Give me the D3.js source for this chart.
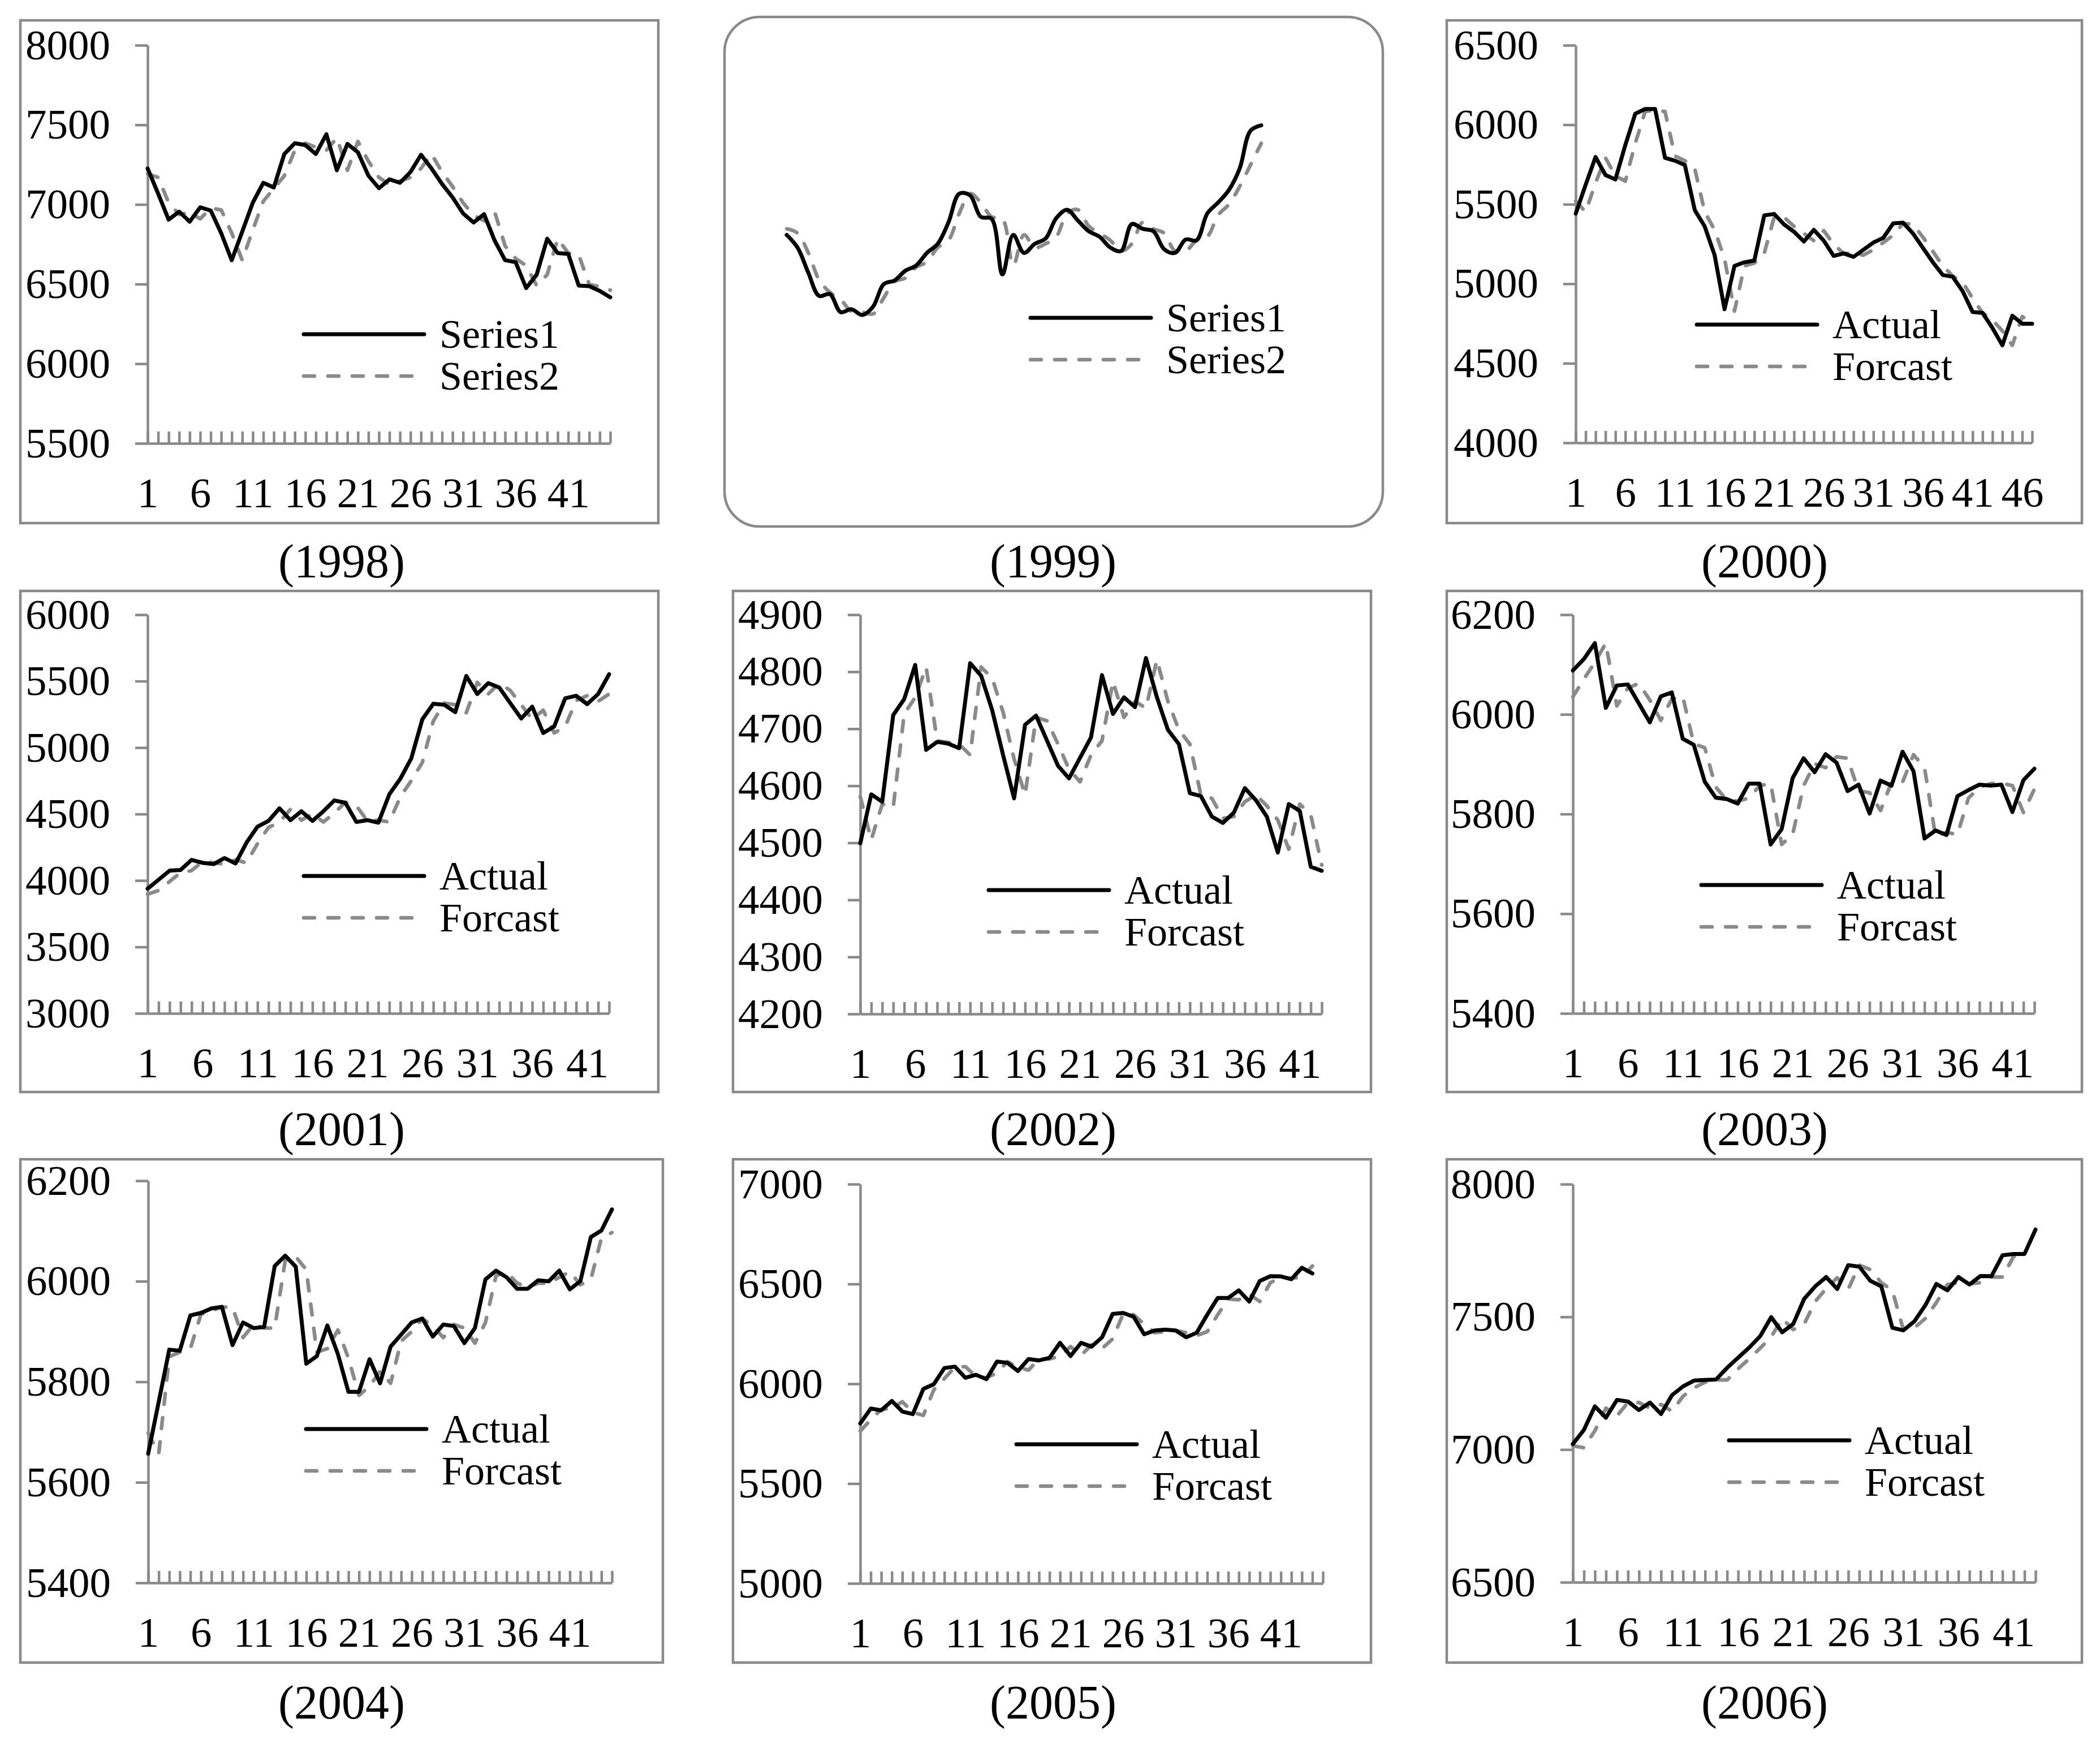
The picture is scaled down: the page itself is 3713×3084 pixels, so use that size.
<!DOCTYPE html>
<html>
<head>
<meta charset="utf-8">
<style>
  body { margin: 0; background: #fff; }
  svg { display: block; }
  text { font-family: "Liberation Serif", "Times New Roman", serif; fill: #000; }
</style>
</head>
<body>
<svg></svg>
<script src="https://d3js.org/d3.v7.min.js"></script>
<script>
let width = 3713,
  height = 3084;

// values
let actual1998 = [7226,7068,6905,6955,6892,6982,6962,6819,6650,6830,7011,7136,7107,7317,7385,7373,7317,7441,7215,7380,7328,7181,7102,7158,7136,7204,7312,7226,7129,7045,6944,6887,6939,6774,6650,6638,6475,6559,6785,6695,6690,6491,6487,6457,6417];
let forecast1998 = [7192,7170,7011,6937,6950,6910,6977,6966,6820,6650,6840,7020,7100,7180,7340,7385,7360,7340,7419,7215,7396,7272,7170,7125,7147,7170,7226,7317,7204,7113,7011,6932,6898,6955,6740,6661,6616,6491,6559,6785,6695,6684,6498,6484,6462];

let actual1999 = [6809,6730,6572,6426,6437,6324,6342,6306,6358,6500,6523,6584,6617,6696,6753,6888,7068,7057,6922,6910,6561,6809,6696,6753,6786,6915,6967,6899,6832,6798,6730,6708,6877,6847,6832,6719,6696,6780,6775,6944,7012,7091,7226,7463,7497];
let forecast1999 = [6847,6820,6696,6527,6448,6403,6329,6324,6313,6414,6516,6538,6606,6640,6730,6775,6944,7068,7012,6922,6910,6617,6809,6730,6753,6798,6944,6967,6865,6820,6775,6708,6753,6888,6847,6820,6708,6708,6775,6798,6933,7001,7113,7248,7384];

let actual2000 = [5441,5622,5797,5684,5656,5872,6069,6099,6099,5792,5774,5747,5463,5361,5180,4840,5112,5135,5146,5430,5439,5373,5327,5266,5339,5271,5175,5191,5169,5214,5259,5289,5380,5384,5316,5225,5135,5055,5044,4953,4822,4817,4722,4613,4799,4749,4749];
let forecast2000 = [5520,5452,5634,5792,5679,5645,5883,6083,6092,6083,5804,5774,5724,5452,5339,5157,4828,5112,5130,5191,5418,5418,5361,5316,5271,5334,5248,5191,5191,5180,5214,5259,5305,5380,5373,5293,5203,5112,5048,5010,4908,4817,4772,4704,4613,4794,4754];

let actual2001 = [3938,4006,4074,4079,4155,4133,4123,4169,4128,4285,4405,4448,4543,4454,4521,4448,4521,4603,4584,4440,4454,4435,4649,4766,4920,5213,5330,5322,5267,5539,5403,5485,5452,5335,5219,5308,5110,5159,5371,5390,5327,5403,5552];
let forecast2001 = [3897,3925,3992,4060,4074,4142,4133,4123,4155,4133,4277,4399,4440,4535,4454,4502,4440,4508,4589,4562,4448,4454,4440,4630,4752,4888,5200,5335,5322,5262,5490,5403,5485,5430,5322,5213,5281,5110,5159,5354,5390,5349,5403];

let actual2002 = [4499,4585,4572,4724,4752,4812,4663,4677,4674,4666,4815,4793,4733,4654,4578,4707,4723,4679,4635,4613,4649,4685,4794,4726,4755,4738,4824,4755,4698,4673,4587,4582,4546,4535,4553,4596,4575,4546,4483,4568,4556,4458,4451];
let forecast2002 = [4581,4505,4568,4562,4726,4755,4808,4679,4676,4673,4654,4808,4789,4729,4647,4584,4720,4714,4673,4629,4607,4654,4679,4783,4720,4748,4736,4821,4748,4698,4673,4584,4578,4543,4546,4572,4584,4565,4540,4489,4568,4549,4461];

let actual2003 = [6088,6111,6143,6013,6058,6060,6022,5984,6036,6044,5951,5939,5865,5833,5830,5821,5861,5861,5739,5770,5872,5912,5884,5920,5903,5846,5859,5801,5867,5857,5925,5886,5751,5767,5758,5836,5848,5859,5857,5859,5804,5868,5891];
let forecast2003 = [6035,6071,6104,6143,6017,6053,6062,6029,5988,6031,6036,5941,5933,5854,5828,5826,5832,5857,5861,5739,5759,5857,5901,5893,5915,5912,5846,5843,5807,5864,5864,5919,5893,5756,5763,5759,5832,5854,5861,5862,5857,5803,5850];

let actual2004 = [5657,5760,5864,5862,5932,5937,5946,5949,5873,5918,5907,5909,6030,6051,6029,5836,5851,5912,5855,5780,5780,5845,5797,5870,5894,5918,5926,5890,5914,5911,5877,5907,6004,6021,6008,5985,5985,6002,6000,6021,5984,6000,6088,6101,6143];
let forecast2004 = [5698,5657,5850,5859,5866,5934,5941,5949,5948,5888,5914,5907,5907,6041,6049,6023,5859,5866,5903,5847,5773,5791,5821,5797,5881,5900,5926,5911,5888,5914,5907,5877,5918,6011,6019,5996,5989,5996,5996,6008,6019,5993,6004,6086,6097];

let actual2005 = [5801,5876,5867,5914,5861,5848,5974,5998,6079,6086,6030,6045,6023,6111,6105,6064,6124,6117,6130,6205,6139,6205,6186,6233,6350,6355,6336,6248,6267,6271,6267,6233,6256,6346,6430,6430,6468,6412,6515,6539,6538,6524,6581,6553];
let forecast2005 = [5763,5820,5872,5876,5910,5857,5842,5970,6026,6083,6086,6036,6030,6055,6111,6083,6068,6124,6124,6139,6186,6143,6195,6177,6224,6350,6346,6299,6256,6261,6267,6256,6242,6261,6346,6425,6421,6449,6412,6506,6534,6528,6534,6590];

let actual2006 = [7021,7074,7163,7120,7187,7181,7149,7177,7134,7205,7238,7260,7262,7264,7308,7346,7384,7427,7499,7442,7473,7568,7615,7650,7605,7695,7689,7636,7615,7459,7449,7483,7544,7624,7600,7650,7622,7654,7653,7732,7737,7737,7829];
let forecast2006 = [7014,7007,7071,7156,7127,7177,7177,7156,7170,7144,7201,7233,7254,7262,7262,7304,7342,7382,7424,7494,7452,7473,7558,7607,7647,7605,7695,7678,7629,7600,7452,7459,7494,7554,7622,7629,7624,7629,7650,7650,7727,7737];

// tick labels
let yTicks1998 = [5500, 6000, 6500, 7000, 7500, 8000];
let yTicks2000 = [4000, 4500, 5000, 5500, 6000, 6500];
let yTicks2001 = [3000, 3500, 4000, 4500, 5000, 5500, 6000];
let yTicks2002 = [4200, 4300, 4400, 4500, 4600, 4700, 4800, 4900];
let yTicks2003 = [5400, 5600, 5800, 6000, 6200];
let yTicks2004 = [5400, 5600, 5800, 6000, 6200];
let yTicks2005 = [5000, 5500, 6000, 6500, 7000];
let yTicks2006 = [6500, 7000, 7500, 8000];

let seriesNames = ["Series1", "Series2"];
let modelNames = ["Actual", "Forcast"];
let captions = ["(1998)", "(1999)", "(2000)", "(2001)", "(2002)", "(2003)", "(2004)", "(2005)", "(2006)"];

// layout of each small chart: frame box, plot box, legend anchor, caption position
let panels = [
  { actual: actual1998, forecast: forecast1998, cats: 45, ticks: yTicks1998, names: seriesNames,
    frame: [36, 36, 1164, 925], plot: [261, 1079, 80, 784], legend: [537, 591], cap: [604, 992] },
  { actual: actual1999, forecast: forecast1999, cats: 45, ticks: null, domain: [5500, 8000], names: seriesNames,
    frame: [1281, 30, 2445, 931], plot: [1391, 2230, 80, 784], legend: [1822, 562], cap: [1862, 992], smooth: true },
  { actual: actual2000, forecast: forecast2000, cats: 47, ticks: yTicks2000, names: modelNames,
    frame: [2558, 36, 3681, 925], plot: [2786, 3593, 80, 783], legend: [3000, 574], cap: [3120, 992] },
  { actual: actual2001, forecast: forecast2001, cats: 43, ticks: yTicks2001, names: modelNames,
    frame: [36, 1045, 1164, 1931], plot: [261, 1077, 1087, 1792], legend: [537, 1549], cap: [604, 1996] },
  { actual: actual2002, forecast: forecast2002, cats: 43, ticks: yTicks2002, names: modelNames,
    frame: [1296, 1045, 2424, 1931], plot: [1521, 2337, 1087, 1793], legend: [1748, 1574], cap: [1862, 1996] },
  { actual: actual2003, forecast: forecast2003, cats: 43, ticks: yTicks2003, names: modelNames,
    frame: [2558, 1045, 3681, 1931], plot: [2781, 3597, 1087, 1792], legend: [3008, 1565], cap: [3120, 1996] },
  { actual: actual2004, forecast: forecast2004, cats: 45, ticks: yTicks2004, names: modelNames,
    frame: [36, 2050, 1172, 2940], plot: [262, 1082, 2088, 2799], legend: [541, 2527], cap: [604, 3010] },
  { actual: actual2005, forecast: forecast2005, cats: 45, ticks: yTicks2005, names: modelNames,
    frame: [1296, 2050, 2424, 2940], plot: [1521, 2339, 2094, 2800], legend: [1797, 2554], cap: [1862, 3010] },
  { actual: actual2006, forecast: forecast2006, cats: 43, ticks: yTicks2006, names: modelNames,
    frame: [2558, 2050, 3681, 2940], plot: [2781, 3599, 2094, 2798], legend: [3057, 2547], cap: [3120, 3010] }
];

let grey = "#898989";
let dash = "19,24";

let svg = d3.select("svg").attr("width", width).attr("height", height);
svg.append("rect").attr("width", width).attr("height", height).attr("fill", "#fff");

panels.forEach((p, k) => {
  let g = svg.append("g");
  let [fx0, fy0, fx1, fy1] = p.frame;
  let [px0, px1, py0, py1] = p.plot;

  // chart border
  g.append("rect")
    .attr("x", fx0).attr("y", fy0)
    .attr("width", fx1 - fx0).attr("height", fy1 - fy0)
    .attr("rx", p.smooth ? 62 : 0)
    .attr("fill", "none").attr("stroke", grey).attr("stroke-width", 4.5);

  let x = d3.scaleLinear().domain([1, p.cats]).range([px0, px1]);
  let y = d3.scaleLinear().domain(p.ticks ? d3.extent(p.ticks) : p.domain).range([py1, py0]);

  if (p.ticks) {
    // y axis
    let ya = g.append("g").attr("transform", `translate(${px0},0)`)
      .call(d3.axisLeft(y).tickValues(p.ticks).tickSize(22).tickSizeOuter(0).tickPadding(44).tickFormat(d3.format("d")));
    // x axis: a mark at every category
    let xa = g.append("g").attr("transform", `translate(0,${py1})`)
      .call(d3.axisBottom(x).tickValues(d3.range(1, p.cats + 1)).tickSize(-21).tickSizeOuter(0).tickFormat(""));
    // x labels every fifth category
    let xl = g.append("g").attr("transform", `translate(0,${py1})`)
      .call(d3.axisBottom(x).tickValues(d3.range(1, p.cats + 1, 5)).tickSize(0).tickPadding(60).tickFormat(d3.format("d")));
    xl.select(".domain").remove();
    [ya, xa, xl].forEach((a) => {
      a.selectAll("path, line").attr("stroke", grey).attr("stroke-width", 4.5);
      a.selectAll("text").attr("font-size", 75).attr("font-family", "Liberation Serif").attr("fill", "#000");
    });
  }

  let line = d3.line()
    .x((d, i) => x(i + 1))
    .y((d) => y(d))
    .curve(p.smooth ? d3.curveCatmullRom.alpha(0.5) : d3.curveLinear);

  g.append("path").attr("d", line(p.forecast))
    .attr("fill", "none").attr("stroke", "#8a8a8a").attr("stroke-width", 6.5)
    .attr("stroke-dasharray", dash).attr("stroke-linecap", "round").attr("stroke-linejoin", "round");
  g.append("path").attr("d", line(p.actual))
    .attr("fill", "none").attr("stroke", "#000").attr("stroke-width", 7)
    .attr("stroke-linejoin", "round").attr("stroke-linecap", "round");

  // legend
  let [lx, ly] = p.legend;
  let lg = g.append("g").attr("transform", `translate(${lx},${ly})`);
  lg.append("line").attr("x1", 0).attr("x2", 213).attr("y1", 0).attr("y2", 0)
    .attr("stroke", "#000").attr("stroke-width", 7).attr("stroke-linecap", "round");
  lg.append("line").attr("x1", 0).attr("x2", 200).attr("y1", 74).attr("y2", 74)
    .attr("stroke", "#8a8a8a").attr("stroke-width", 6.5).attr("stroke-dasharray", dash)
    .attr("stroke-linecap", "round");
  lg.selectAll("text").data(p.names).enter().append("text")
    .attr("x", 240).attr("y", (d, i) => i * 74).attr("dy", "0.33em")
    .attr("font-size", 72).text((d) => d);

  // caption
  g.append("text").attr("x", p.cap[0]).attr("y", p.cap[1]).attr("dy", "0.35em")
    .attr("text-anchor", "middle").attr("font-size", 84).text(captions[k]);
});
</script>
</body>
</html>
